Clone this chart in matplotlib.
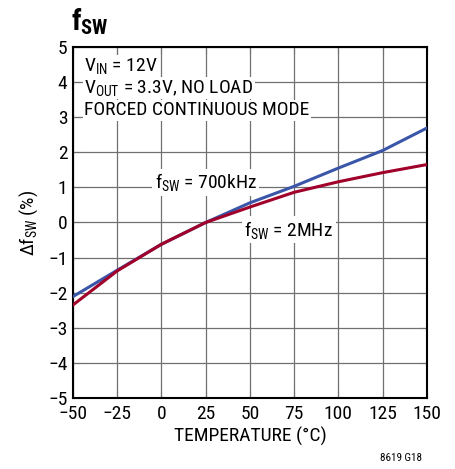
import matplotlib
matplotlib.use('Agg')
import matplotlib.pyplot as plt

plt.rcParams['font.family'] = ['Roboto Condensed', 'DejaVu Sans']
plt.rcParams['mathtext.default'] = 'regular'

temp = [-50, -25, 0, 25, 50, 75, 100, 125, 150]
df_700k = [-2.11, -1.36, -0.62, 0.0, 0.56, 1.03, 1.55, 2.05, 2.69]
df_2m = [-2.35, -1.38, -0.62, 0.0, 0.44, 0.86, 1.16, 1.42, 1.65]

xticks = [-50, -25, 0, 25, 50, 75, 100, 125, 150]
xticklabels = ['\u221250', '\u221225', '0', '25', '50', '75', '100', '125', '150']
yticks = [-5, -4, -3, -2, -1, 0, 1, 2, 3, 4, 5]
yticklabels = [('\u2212' + str(-v)) if v < 0 else str(v) for v in yticks]

fig = plt.figure(figsize=(4.56, 4.69), dpi=100)
ax = fig.add_axes([0.160, 0.1514, 0.776, 0.7484])

ax.plot(temp, df_700k, color='#3a56a8', lw=2.2, zorder=3)
ax.plot(temp, df_2m, color='#a0002a', lw=2.2, zorder=3)

ax.set_xlim(-50, 150)
ax.set_ylim(-5, 5)
ax.set_xticks(xticks)
ax.set_xticklabels(xticklabels)
ax.set_yticks(yticks)
ax.set_yticklabels(yticklabels)
ax.grid(True, color='#707070', lw=0.9)
ax.tick_params(labelsize=14, direction='in', length=5, color='#707070',
               top=True, right=True, pad=4)
ax.tick_params(axis='x', pad=5)
for s in ax.spines.values():
    s.set_linewidth(1.5)

ax.set_xlabel('TEMPERATURE (°C)', fontsize=14, labelpad=3)
ax.set_ylabel('\u0394f$_{SW}$ (%)', fontsize=14, labelpad=6)

box = dict(facecolor='white', edgecolor='none', pad=1)
ax.text(-43.5, 4.45, r'$V_{IN}$ = 12V', fontsize=14, va='center', bbox=box, zorder=4)
ax.text(-43.5, 3.83, r'$V_{OUT}$ = 3.3V, NO LOAD', fontsize=14, va='center', bbox=box, zorder=4)
ax.text(-43.5, 3.2, 'FORCED CONTINUOUS MODE', fontsize=14, va='center', bbox=box, zorder=4)

ax.text(25, 1.14, r'$f_{SW}$ = 700kHz', fontsize=14, ha='center', va='center',
        bbox=dict(facecolor='white', edgecolor='none', pad=2), zorder=4)
ax.text(72, -0.2, r'$f_{SW}$ = 2MHz', fontsize=14, ha='center', va='center',
        bbox=dict(facecolor='white', edgecolor='none', pad=2), zorder=4)

fig.text(0.155, 0.955, r'$f_{SW}$', fontsize=21, fontweight='bold', ha='left', va='center')
fig.text(0.925, 0.012, '8619 G18', fontsize=8, ha='right', va='bottom')

fig.savefig('out.png', dpi=100)
